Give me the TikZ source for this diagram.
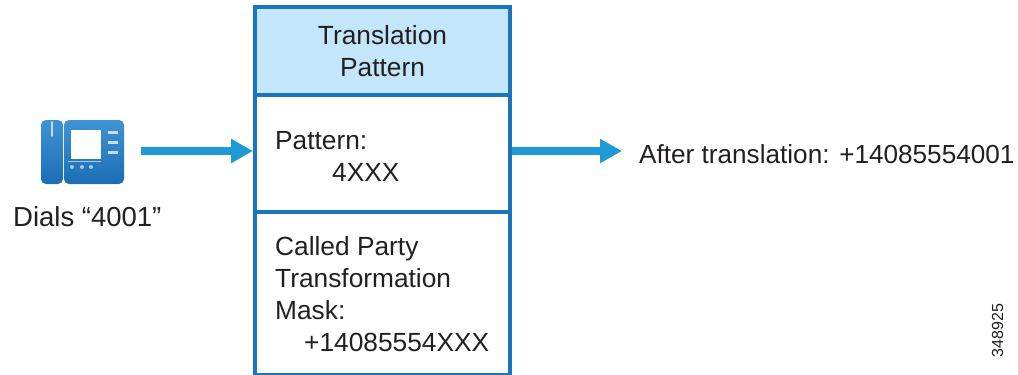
\documentclass[tikz,border=0pt]{standalone}
\usepackage{fontspec}
\setmainfont{Liberation Sans}
\usetikzlibrary{arrows.meta}

\definecolor{boxblue}{HTML}{1A75BC}
\definecolor{titleblue}{HTML}{C4E6FA}
\definecolor{arrowblue}{HTML}{1F9AD6}
\definecolor{textgrey}{HTML}{231F20}
\definecolor{phonelight}{HTML}{3F94D4}
\definecolor{phonedark}{HTML}{1C6DB4}

\tikzset{
  boxpart/.style={draw=boxblue,line width=4pt,minimum width=255pt,inner sep=0pt},
  boxtext/.style={text=textgrey,inner sep=0pt,align=left,font=\fontsize{26.3}{32}\selectfont},
  flowarrow/.style={-{Triangle[length=22pt,width=23pt]},color=arrowblue,line width=8pt},
  phonepart/.style={top color=phonelight,bottom color=phonedark,draw=none,rounded corners=5pt},
}

\begin{document}
\begin{tikzpicture}[x=1pt,y=-1pt]

  	\useasboundingbox (0,0) rectangle (1018,375);

  	% box
  	\node[boxpart,fill=titleblue,minimum height=88pt,boxtext,text width=255pt,align=center] (titlebox) at (382.5,51) {Translation\\Pattern};
  	\node[boxpart,minimum height=117pt] (patternbox) at (382.5,153.5) {};
  	\node[boxpart,minimum height=163pt] (maskbox) at (382.5,293.5) {};

  	\node[boxtext,anchor=base west] (patterntext) at (275,181) {Pattern:\\\hspace*{57pt}4XXX};
  	\node[boxtext,anchor=base west] (masktext) at (275,351) {Called Party\\Transformation\\Mask:\\\hspace*{29pt}+14085554XXX};

  	% phone
  	\path[phonepart] (41,120) rectangle (63,184);
  	\path[phonepart] (64,120) rectangle (124,184);
  	\fill[white] (71,130) rectangle (101,159);
  	\draw[white!75!boxblue,line width=1.5pt,line cap=round] (52,122) -- (52,136);
  	\foreach \y in {132,142,152} {
  	  \draw[white!75!boxblue,line width=3pt] (108,\y) -- (118,\y);
  	}
  	\foreach \x in {72,82,91} {
  	  \fill[white!60!boxblue] (\x,167) circle (2pt);
  	}
  	\draw[white!60!boxblue,line width=1pt] (68,161) -- (101,161);

  	\node[boxtext,anchor=base west,font=\fontsize{27.5}{32}\selectfont] (phonelabel) at (13,226) {Dials “4001”};
  	\node[boxtext,anchor=base west,font=\fontsize{26.15}{32}\selectfont] (afterlabel) at (639,163) {After translation: +14085554001};
  	\node[text=textgrey,inner sep=0pt,anchor=base,rotate=90,font=\fontsize{16}{16}\selectfont] (figlabel) at (1003,330.5) {348925};

  	\coordinate (phoneout) at (141,151);
  	\coordinate (afterin) at (622,151);

  	\path[flowarrow] (phoneout) edge (patternbox.west |- phoneout);
  	\path[flowarrow] (patternbox.east |- phoneout) edge (afterin);

  \end{tikzpicture}
\end{document}
